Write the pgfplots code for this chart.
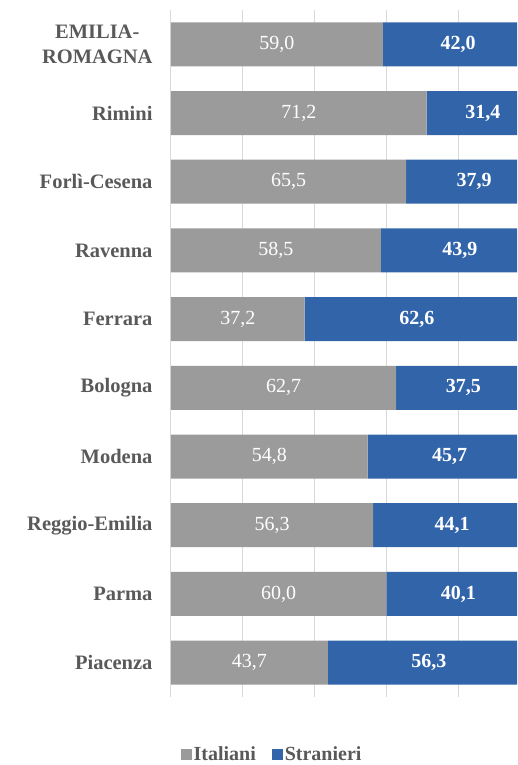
\documentclass[border=0pt]{standalone}
\usepackage{fontspec}
\setmainfont{Liberation Serif}
\usepackage{pgfplots}
\usepackage{pgfplotstable}
\pgfplotsset{compat=1.18}

\definecolor{ital}{RGB}{155,155,155}
\definecolor{stra}{RGB}{50,100,170}
\definecolor{lbl}{RGB}{89,89,89}
\definecolor{grd}{RGB}{217,217,217}

% pos 0 = Piacenza (bottom) ... 9 = Emilia-Romagna (top)
\pgfplotstableread{
pos it   st
0   43.7 56.3
1   60.0 40.1
2   56.3 44.1
3   54.8 45.7
4   62.7 37.5
5   37.2 62.6
6   58.5 43.9
7   65.5 37.9
8   71.2 31.4
9   59.0 42.0
}\datatable

\pgfplotsset{
    frame/.style={
        at={(0,0)}, anchor=south west,
        scale only axis,
        width=346pt, height=687pt,
        xmin=0, xmax=96.4,
        ymin=-0.5, ymax=9.5,
    },
}

\begin{document}
\begin{tikzpicture}
\useasboundingbox (-171pt,-68pt) rectangle (346pt,697pt);
\begin{axis}[
    frame,
    xbar stacked,
    bar width=44pt,
    xtick={0,20,40,60,80},
    xticklabels={},
    xmajorgrids,
    grid style={grd, line width=1pt},
    ytick={0,...,9},
    yticklabels={Piacenza,Parma,Reggio-Emilia,Modena,Bologna,Ferrara,Ravenna,Forlì-Cesena,Rimini,{EMILIA-\\ROMAGNA}},
    yticklabel style={font=\fontsize{20.5}{25}\selectfont\bfseries, text=lbl, align=center, xshift=-15pt},
    major tick length=0pt,
    axis line style={draw=none},
    legend columns=2,
    legend style={at={(0.292,-0.083)}, anchor=center, draw=none, fill=none,
        font=\fontsize{20}{24}\selectfont\bfseries, text=lbl,
        /tikz/every even column/.append style={column sep=14pt}},
    legend image code/.code={\fill[#1] (0pt,-5.5pt) rectangle (11pt,5.5pt);},
]
\addplot[fill=ital, draw=none] table[x=it, y=pos] {\datatable};
\addlegendentry{Italiani}
\addplot[fill=stra, draw=none] table[x=st, y=pos] {\datatable};
\addlegendentry{Stranieri}
\end{axis}

% value labels, centred in each segment
\begin{axis}[frame, hide axis, clip=false]
\addplot[draw=none, mark=none, point meta=explicit,
    nodes near coords={\pgfmathprintnumber[fixed,fixed zerofill,precision=1,use comma,assume math mode=true]{\pgfplotspointmeta}},
    nodes near coords style={anchor=center, text=white, font=\fontsize{20}{24}\selectfont}]
    table[x expr=\thisrow{it}/2, y=pos, meta=it] {\datatable};
\addplot[draw=none, mark=none, point meta=explicit,
    nodes near coords={\pgfmathprintnumber[fixed,fixed zerofill,precision=1,use comma,assume math mode=true]{\pgfplotspointmeta}},
    nodes near coords style={anchor=center, text=white, font=\fontsize{20}{24}\selectfont\bfseries}]
    table[x expr=\thisrow{it}+\thisrow{st}/2, y=pos, meta=st] {\datatable};
\end{axis}
\end{tikzpicture}
\end{document}
